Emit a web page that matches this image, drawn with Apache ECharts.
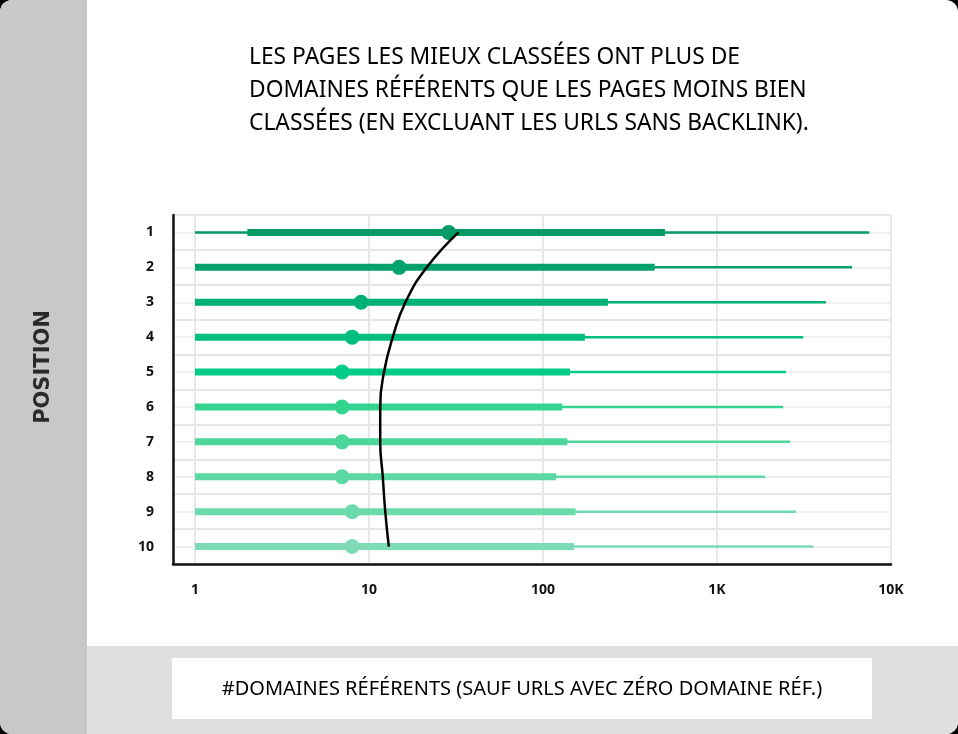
<!DOCTYPE html>
<html><head><meta charset="utf-8">
<script src="https://cdn.jsdelivr.net/npm/echarts@6/dist/echarts.min.js"></script>
<style>html,body{margin:0;padding:0;background:#000;} #c{width:958px;height:734px;}</style>
</head><body><div id="c"></div>
<script>
// ---- data ----
const positions = ['1','2','3','4','5','6','7','8','9','10'];
const minVals    = [1, 1, 1, 1, 1, 1, 1, 1, 1, 1];
const q1Vals     = [2, 1, 1, 1, 1, 1, 1, 1, 1, 1];
const medianVals = [28.7, 14.9, 9.0, 8.0, 7.0, 7.0, 7.0, 7.0, 8.0, 8.0];
const q3Vals     = [502, 438, 236, 174, 143, 129, 138, 119, 154, 151];
const maxVals    = [7500, 5970, 4230, 3130, 2490, 2395, 2630, 1890, 2845, 3575];
const trendVals  = [32.7, 21.5, 16.2, 13.7, 12.2, 11.6, 11.6, 12.0, 12.4, 13.0];
const xTickLabels = ['1', '10', '100', '1K', '10K'];
const rowColors = ['#039b63','#00a36b','#00b074','#00be7e','#00cc88','#33d390','#4cd69b','#5dd8a4','#6cdaab','#7ddbb6'];
const titleText = 'LES PAGES LES MIEUX CLASSÉES ONT PLUS DE\nDOMAINES RÉFÉRENTS QUE LES PAGES MOINS BIEN\nCLASSÉES (EN EXCLUANT LES URLS SANS BACKLINK).';
const xTitle = '#DOMAINES RÉFÉRENTS (SAUF URLS AVEC ZÉRO DOMAINE RÉF.)';
const yTitle = 'POSITION';

const boxData = positions.map((p, i) => [i, minVals[i], q1Vals[i], medianVals[i], q3Vals[i], maxVals[i]]);
const trendData = positions.map((p, i) => [trendVals[i], p]);

const chart = echarts.init(document.getElementById('c'));
const narrow = '"Liberation Sans Narrow", "Noto Sans", sans-serif';
chart.setOption({
  animation: false,
  backgroundColor: 'transparent',
  title: {
    text: titleText, left: 244, top: 36,
    textStyle: { fontFamily: narrow, fontSize: 22.8, fontWeight: 'normal', lineHeight: 33, color: '#000' }
  },
  graphic: [
    { type: 'rect', z: -100, shape: { x: 0, y: 0, width: 958, height: 734, r: 12 }, style: { fill: '#ffffff' } },
    { type: 'rect', z: -99, shape: { x: 0, y: 0, width: 87, height: 734, r: [12, 0, 0, 12] }, style: { fill: '#c8c8c8' } },
    { type: 'rect', z: -99, shape: { x: 87, y: 646, width: 871, height: 88, r: [0, 0, 12, 0] }, style: { fill: '#dfdfdf' } },
    { type: 'rect', z: -98, shape: { x: 172, y: 658, width: 700, height: 61 }, style: { fill: '#ffffff' } },
    { type: 'text', z: 100, x: 522, y: 689, style: { text: xTitle, fill: '#000', font: '20px ' + narrow, textAlign: 'center', textVerticalAlign: 'middle' } },
    { type: 'text', z: 100, x: 44, y: 367, rotation: Math.PI / 2, style: { text: yTitle, fill: '#2a2a2a', font: 'bold 21px "DejaVu Sans", sans-serif', textAlign: 'center', textVerticalAlign: 'middle' } }
  ],
  grid: [
    { left: 173, right: 67, top: 215, bottom: 170 },
    { left: 195, right: 67, top: 215, bottom: 170 }
  ],
  xAxis: [
    { gridIndex: 0, type: 'value', min: 0, max: 1, z: 10,
      axisLine: { show: true, lineStyle: { color: '#111', width: 2.5 } },
      axisTick: { show: false }, axisLabel: { show: false }, splitLine: { show: false } },
    { gridIndex: 1, type: 'log', logBase: 10, min: 1, max: 10000, z: 0,
      axisLine: { show: false }, axisTick: { show: false },
      axisLabel: { margin: 19, color: '#111', fontFamily: '"Open Sans", sans-serif', fontWeight: 'bold', fontSize: 14,
        formatter: v => { const k = Math.round(Math.log10(v)); return xTickLabels[k] !== undefined ? xTickLabels[k] : ''; } },
      splitLine: { show: true, lineStyle: { color: '#e8e8e8', width: 2 } } }
  ],
  yAxis: [
    { gridIndex: 0, type: 'value', min: 0, max: 20, interval: 1, z: 0,
      axisLine: { show: true, lineStyle: { color: '#111', width: 2.5 } },
      axisTick: { show: false }, axisLabel: { show: false },
      splitLine: { show: true, lineStyle: { color: ['#e6e6e6', '#efefef'], width: 2 } } },
    { gridIndex: 1, type: 'category', data: positions, inverse: true,
      axisLine: { show: false }, axisTick: { show: false }, splitLine: { show: false },
      axisLabel: { margin: 41, color: '#111', fontFamily: '"Open Sans", sans-serif', fontWeight: 'bold', fontSize: 14 } }
  ],
  series: [
    {
      type: 'custom', xAxisIndex: 1, yAxisIndex: 1, z: 3,
      encode: { x: [1, 2, 3, 4, 5], y: 0 },
      data: boxData,
      renderItem: (params, api) => {
        const c = api.value(0);
        const pMin = api.coord([api.value(1), c]);
        const pQ1 = api.coord([api.value(2), c]);
        const pMed = api.coord([api.value(3), c]);
        const pQ3 = api.coord([api.value(4), c]);
        const pMax = api.coord([api.value(5), c]);
        const col = rowColors[params.dataIndex];
        return { type: 'group', children: [
          { type: 'rect', shape: { x: pMin[0], y: pMin[1] - 1.25, width: pMax[0] - pMin[0], height: 2.5 }, style: { fill: col } },
          { type: 'rect', shape: { x: pQ1[0], y: pQ1[1] - 3.5, width: pQ3[0] - pQ1[0], height: 7 }, style: { fill: col } },
          { type: 'circle', shape: { cx: pMed[0], cy: pMed[1], r: 7.5 }, style: { fill: col } }
        ] };
      }
    },
    {
      type: 'line', xAxisIndex: 1, yAxisIndex: 1, z: 5,
      data: trendData, smooth: 0.5, showSymbol: false, symbol: 'none',
      lineStyle: { color: '#000', width: 2.5 }
    }
  ]
});
</script>
</body></html>
